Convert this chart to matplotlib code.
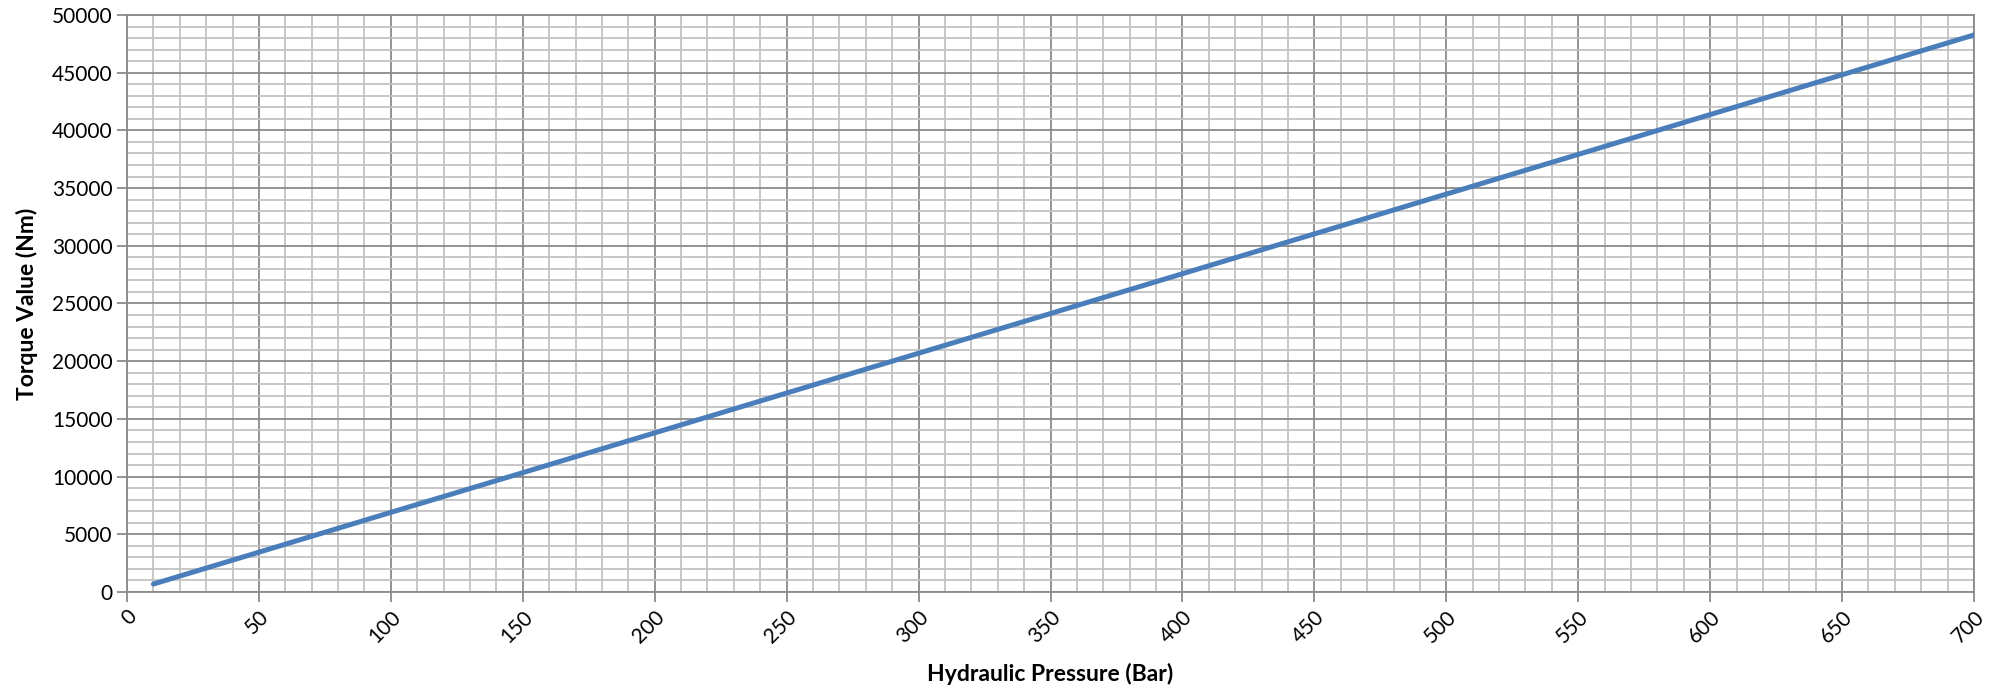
import matplotlib.pyplot as plt
from matplotlib.ticker import MultipleLocator

pressure = [10, 50, 100, 150, 200, 250, 300, 350, 400, 450, 500, 550, 600, 650, 700]
torque = [690, 3450, 6900, 10340, 13790, 17240, 20690, 24130, 27580, 31030, 34480, 37920, 41370, 44820, 48270]

plt.rcParams['font.family'] = ['Lato', 'DejaVu Sans']

fig = plt.figure(figsize=(19.95, 6.93), dpi=100)
ax = fig.add_axes([127 / 1995, 1 - 592 / 693, (1974 - 127) / 1995, (592 - 15) / 693])

ax.plot(pressure, torque, color='#4a7ebb', lw=3.6, solid_capstyle='round', zorder=3)

ax.set_xlim(0, 700)
ax.set_ylim(0, 50000)
ax.xaxis.set_major_locator(MultipleLocator(50))
ax.xaxis.set_minor_locator(MultipleLocator(10))
ax.yaxis.set_major_locator(MultipleLocator(5000))
ax.yaxis.set_minor_locator(MultipleLocator(1000))
ax.grid(which='minor', color='#c3c3c3', lw=1.3)
ax.grid(which='major', color='#8a8a8a', lw=1.3)
ax.set_axisbelow(True)

for s in ax.spines.values():
    s.set_color('#8a8a8a')
    s.set_linewidth(1.3)

ax.tick_params(which='major', direction='out', length=7, width=1.3, color='#8a8a8a', labelsize=15)
ax.tick_params(which='minor', length=0)
plt.setp(ax.get_xticklabels(), rotation=45, ha='right', va='top', rotation_mode='anchor')

ax.set_xlabel('Hydraulic Pressure (Bar)', fontsize=16.5, fontweight='bold', labelpad=12)
ax.set_ylabel('Torque Value (Nm)', fontsize=16.5, fontweight='bold', labelpad=10)

fig.savefig('out.png', dpi=100)
